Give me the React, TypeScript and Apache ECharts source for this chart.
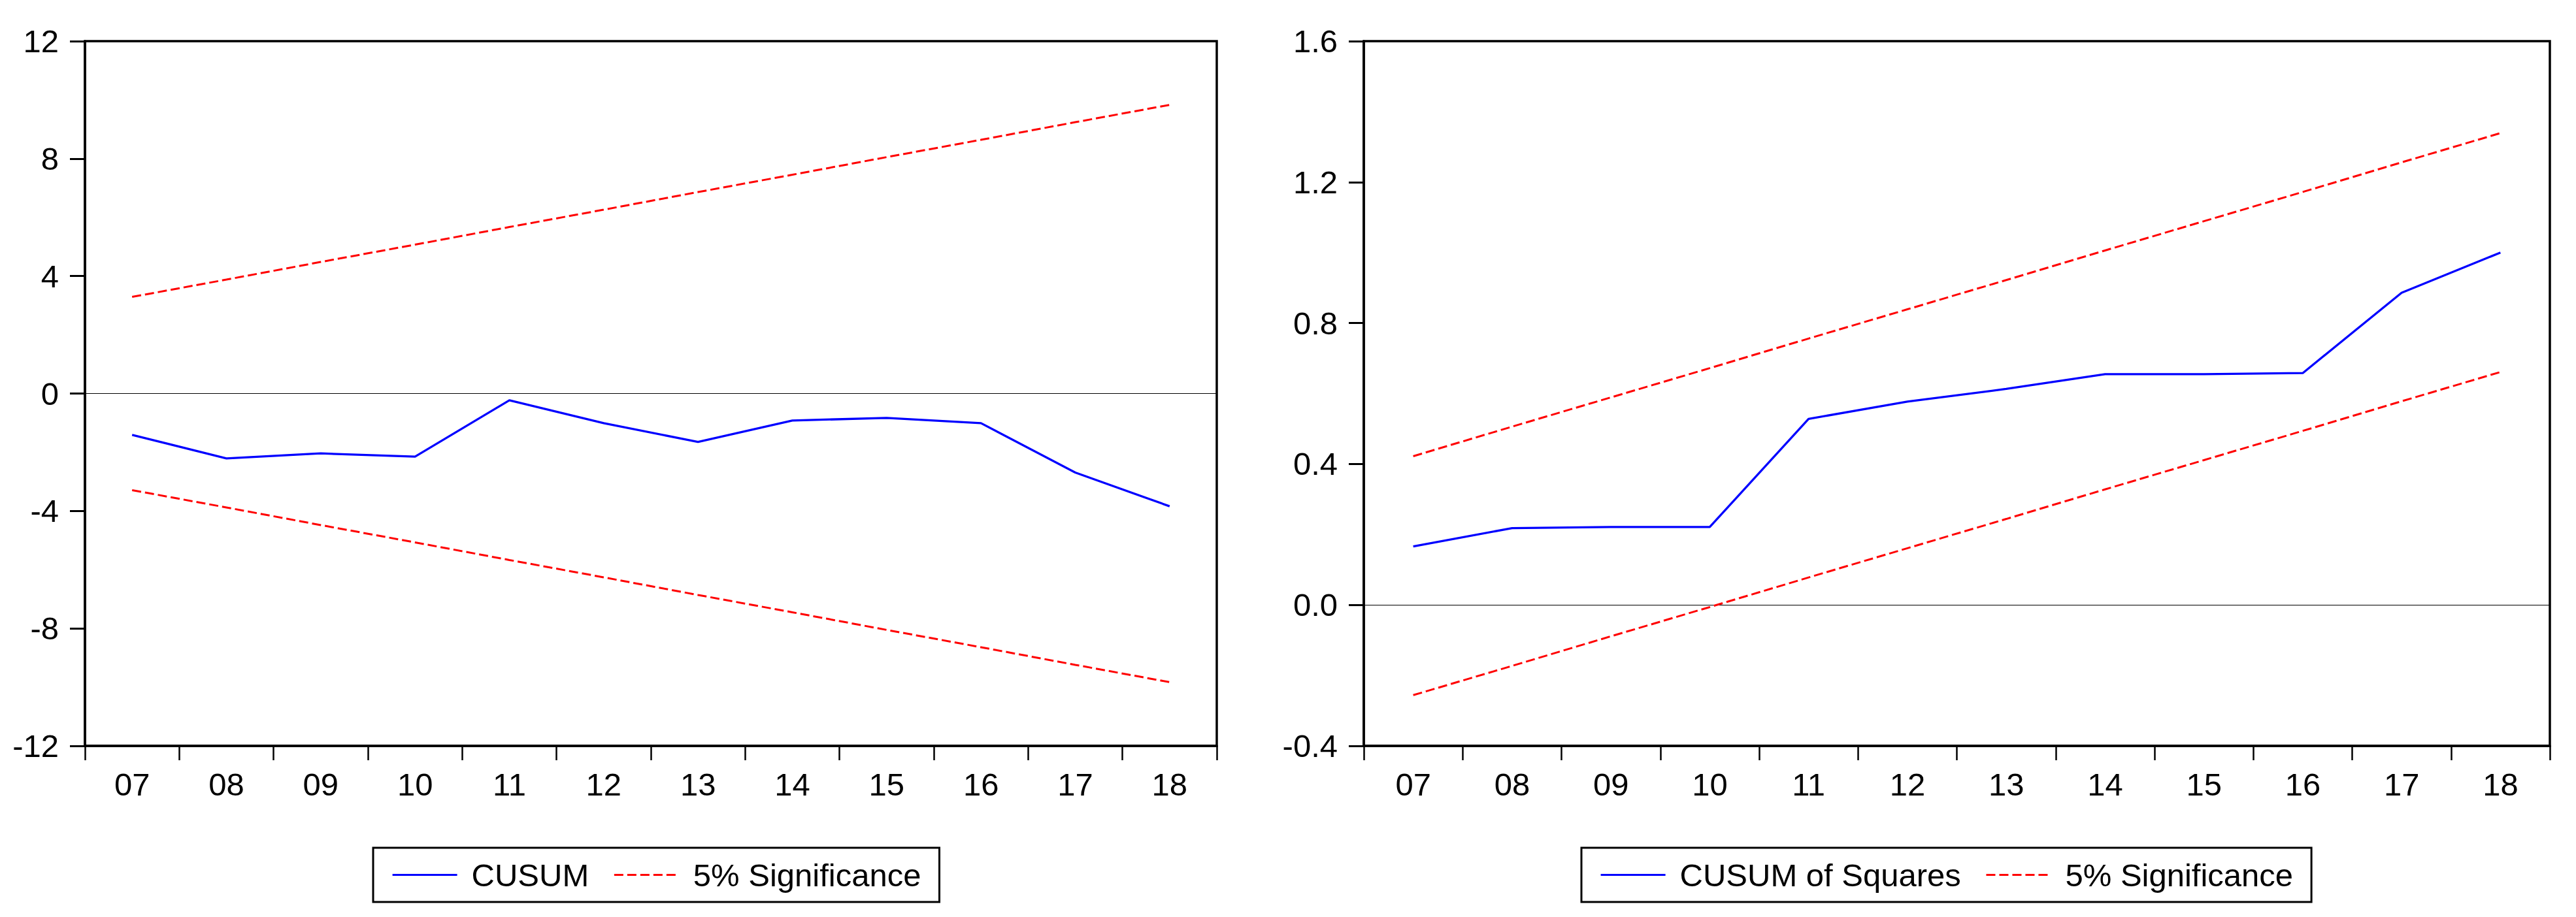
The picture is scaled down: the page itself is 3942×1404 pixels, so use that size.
import React, { useEffect, useRef } from "react";
import * as echarts from "echarts";

const years = ["07", "08", "09", "10", "11", "12", "13", "14", "15", "16", "17", "18"];

const cusum = [-1.41, -2.21, -2.04, -2.15, -0.23, -1.01, -1.65, -0.92, -0.83, -1.01, -2.69, -3.84];
const cusumUpper = [3.29, 3.88, 4.48, 5.07, 5.67, 6.26, 6.86, 7.45, 8.05, 8.64, 9.24, 9.83];
const cusumLower = [-3.29, -3.88, -4.48, -5.07, -5.67, -6.26, -6.86, -7.45, -8.05, -8.64, -9.24, -9.83];

const cusumSq = [0.166, 0.218, 0.221, 0.221, 0.528, 0.577, 0.613, 0.655, 0.655, 0.658, 0.886, 1.0];
const sqUpper = [0.422, 0.506, 0.589, 0.672, 0.756, 0.839, 0.922, 1.006, 1.089, 1.172, 1.256, 1.339];
const sqLower = [-0.256, -0.173, -0.089, -0.006, 0.078, 0.161, 0.244, 0.328, 0.411, 0.494, 0.578, 0.661];

const FONT = "'Liberation Sans', Arial, Helvetica, sans-serif";
const FS = 49;

function xAxisOpt(gridIndex: number) {
  return {
    type: "category",
    gridIndex,
    data: years,
    boundaryGap: true,
    axisLine: { show: true, onZero: false, lineStyle: { color: "#000", width: 3.5 } },
    axisTick: { show: true, inside: false, length: 22, interval: 0, lineStyle: { color: "#000", width: 2.5 } },
    axisLabel: { show: true, interval: 0, margin: 34, color: "#000", fontSize: FS, fontFamily: FONT },
    splitLine: { show: false },
  };
}

function yAxisOpt(gridIndex: number, min: number, max: number, interval: number, dec: number) {
  return {
    type: "value",
    gridIndex,
    min,
    max,
    interval,
    axisLine: { show: true, lineStyle: { color: "#000", width: 3.5 } },
    axisTick: { show: true, inside: false, length: 23, lineStyle: { color: "#000", width: 3 } },
    axisLabel: {
      show: true,
      margin: 40,
      color: "#000",
      fontSize: FS,
      fontFamily: FONT,
      formatter: (v: number) => (Math.abs(v) < 1e-9 ? (0).toFixed(dec) : v.toFixed(dec)),
    },
    splitLine: { show: false },
  };
}

const blueLine = { color: "#0000FF", width: 3.3, type: "solid" };
const redLine = { color: "#FF0000", width: 3, type: [14, 6] };

function lineSeries(name: string, data: number[], idx: number, style: any, zero: boolean) {
  const s: any = {
    type: "line",
    name,
    data,
    xAxisIndex: idx,
    yAxisIndex: idx,
    symbol: "none",
    showSymbol: false,
    lineStyle: style,
    itemStyle: { color: style.color },
    silent: true,
    z: name.startsWith("CUSUM") ? 5 : 4,
  };
  if (zero) {
    s.markLine = {
      silent: true,
      symbol: ["none", "none"],
      label: { show: false },
      lineStyle: { color: "#000", width: 1.2, type: "solid" },
      data: [{ yAxis: 0 }],
      z: 3,
    };
  }
  return s;
}

function legendOpt(left: number, names: string[]) {
  return {
    show: true,
    left,
    top: 1298,
    orient: "horizontal",
    data: names,
    itemWidth: 99,
    itemHeight: 4,
    itemGap: 37,
    padding: [17, 28, 17, 28],
    borderColor: "#000",
    borderWidth: 3,
    backgroundColor: "#fff",
    selectedMode: false,
    itemStyle: { opacity: 0 },
    lineStyle: { width: 3.2 },
    textStyle: { color: "#000", fontSize: FS, fontFamily: FONT, padding: [0, 0, 0, 17] },
  };
}

export default function App() {
  const ref = useRef<HTMLDivElement>(null);
  useEffect(() => {
    if (!ref.current) return;
    const chart = echarts.init(ref.current, undefined, { renderer: "svg" });
    chart.setOption({
      animation: false,
      backgroundColor: "#fff",
      textStyle: { fontFamily: FONT },
      grid: [
        { left: 130, top: 63, width: 1732, height: 1079, show: true, borderColor: "#000", borderWidth: 3.5, backgroundColor: "transparent" },
        { left: 2087, top: 63, width: 1815, height: 1079, show: true, borderColor: "#000", borderWidth: 3.5, backgroundColor: "transparent" },
      ],
      xAxis: [xAxisOpt(0), xAxisOpt(1)],
      yAxis: [yAxisOpt(0, -12, 12, 4, 0), yAxisOpt(1, -0.4, 1.6, 0.4, 1)],
      legend: [
        legendOpt(571, ["CUSUM", "5% Significance"]),
        legendOpt(2420, ["CUSUM of Squares", "5% Significance"]),
      ],
      series: [
        lineSeries("CUSUM", cusum, 0, blueLine, true),
        lineSeries("5% Significance", cusumUpper, 0, redLine, false),
        lineSeries("5% Significance", cusumLower, 0, redLine, false),
        lineSeries("CUSUM of Squares", cusumSq, 1, blueLine, true),
        lineSeries("5% Significance", sqUpper, 1, redLine, false),
        lineSeries("5% Significance", sqLower, 1, redLine, false),
      ],
    });
    return () => chart.dispose();
  }, []);
  return (
    <div
      ref={ref}
      style={{ position: "absolute", left: 0, top: 0, width: 3942, height: 1404, background: "#fff" }}
    />
  );
}
